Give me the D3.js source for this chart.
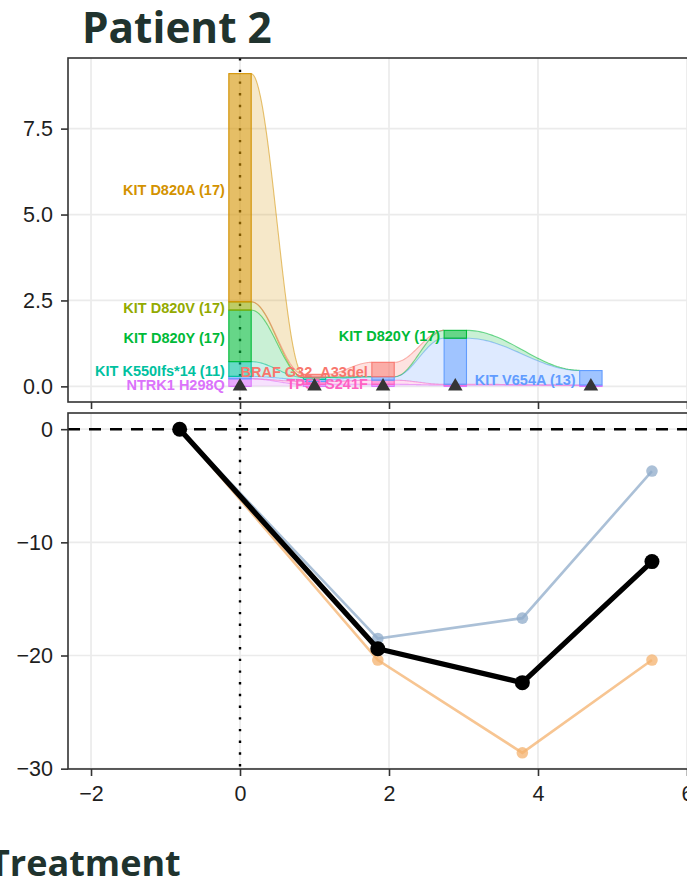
<!DOCTYPE html>
<html>
<head>
<meta charset="utf-8">
<script src="https://cdn.jsdelivr.net/npm/d3@7"></script>
<style>
  html, body { margin: 0; padding: 0; background: #fff; overflow: hidden; }
  svg { display: block; }
</style>
</head>
<body>
<svg id="chart" width="687" height="884"></svg>
<script>
// ---- clonal fractions at each sequencing time point (stack order: bottom -> top)
const sampleTimes = [0, 1.0, 1.92, 2.89, 4.71];
const mutations = ["NTRK1 H298Q", "TP53 S241F", "KIT V654A", "KIT K550Ifs*14",
                   "KIT D820Y", "KIT D820V", "BRAF G32_A33del", "KIT D820A"];
const mutationColors = ["#DB72FB", "#FF61C3", "#619CFF", "#00C19F",
                        "#00BA38", "#93AA00", "#F8766D", "#D39200"];
const ntrk1H298Q   = [0.22, 0.06, 0.06, 0.04, 0.03];
const tp53S241F    = [0.00, 0.08, 0.12, 0.02, 0.01];
const kitV654A     = [0.07, 0.06, 0.10, 1.34, 0.42];
const kitK550Ifs   = [0.43, 0.06, 0.00, 0.00, 0.00];
const kitD820Y     = [1.50, 0.01, 0.00, 0.23, 0.01];
const kitD820V     = [0.24, 0.00, 0.00, 0.00, 0.00];
const brafG32A33   = [0.00, 0.08, 0.42, 0.00, 0.00];
const kitD820A     = [6.64, 0.00, 0.00, 0.00, 0.00];
const mutationValues = [ntrk1H298Q, tp53S241F, kitV654A, kitK550Ifs,
                        kitD820Y, kitD820V, brafG32A33, kitD820A];

// ---- clone labels: text, clone index, time point it is attached to
const labelTexts = ["KIT D820A (17)", "KIT D820V (17)", "KIT D820Y (17)", "KIT K550Ifs*14 (11)",
                    "NTRK1 H298Q", "BRAF G32_A33del", "TP53 S241F", "KIT D820Y (17)", "KIT V654A (13)"];
const labelMutation = [7, 5, 4, 3, 0, 6, 1, 4, 2];
const labelTimes = [0, 0, 0, 0, 0, 1.92, 1.92, 2.89, 4.71];

// ---- tumour size change (%) over time
const tumorTimes  = [-0.81, 1.85, 3.79, 5.53];
const tumorMean   = [0, -19.4, -22.4, -11.7];
const lesionA     = [0, -18.5, -16.7, -3.7];
const lesionB     = [0, -20.4, -28.6, -20.4];

// ---- tick values
const xTicks = [-2, 0, 2, 4, 6];
const topTicks = [0, 2.5, 5, 7.5];
const bottomTicks = [0, -10, -20, -30];

const barWidth = 0.3;

const svg = d3.select("#chart");
const axisFont = "'Liberation Sans', Arial, sans-serif";
const headFont = "'Open Sans', sans-serif";
const gridColor = "#ebebeb";
const frameColor = "#333333";

const left = 68, right = 710;
const topPanel = { y0: 58, y1: 402 };
const botPanel = { y0: 413, y1: 769 };

const x = d3.scaleLinear().domain([-2.309, 6.309]).range([left, right]);
const yTop = d3.scaleLinear().domain([-0.455, 9.555]).range([topPanel.y1, topPanel.y0]);
const yBot = d3.scaleLinear().domain([-30.03, 1.43]).range([botPanel.y1, botPanel.y0]);

// headings
svg.append("text")
  .attr("x", 82).attr("y", 43)
  .attr("font-family", headFont).attr("font-weight", 700).attr("font-size", 42.3)
  .attr("fill", "#20332e")
  .text("Patient 2");

svg.append("text")
  .attr("x", -11).attr("y", 876)
  .attr("font-family", headFont).attr("font-weight", 700).attr("font-size", 36)
  .attr("fill", "#20332e")
  .text("Treatment");

// clip paths for panels
const defs = svg.append("defs");
defs.append("clipPath").attr("id", "clipTop").append("rect")
  .attr("x", left).attr("y", topPanel.y0).attr("width", right - left).attr("height", topPanel.y1 - topPanel.y0);
defs.append("clipPath").attr("id", "clipBot").append("rect")
  .attr("x", left).attr("y", botPanel.y0).attr("width", right - left).attr("height", botPanel.y1 - botPanel.y0);

function drawGrid(g, yScale, yTicks, p) {
  g.selectAll("line.gy").data(yTicks).join("line")
    .attr("x1", left).attr("x2", right)
    .attr("y1", d => yScale(d)).attr("y2", d => yScale(d))
    .attr("stroke", gridColor).attr("stroke-width", 1.7);
  g.selectAll("line.gx").data(xTicks).join("line")
    .attr("x1", d => x(d)).attr("x2", d => x(d))
    .attr("y1", p.y0).attr("y2", p.y1)
    .attr("stroke", gridColor).attr("stroke-width", 1.7);
}

function styleAxis(g) {
  g.select(".domain").remove();
  g.selectAll(".tick line").attr("stroke", frameColor).attr("stroke-width", 1.6);
  g.selectAll(".tick text").attr("fill", "#1e1e1e")
    .attr("font-family", axisFont).attr("font-size", 21.5);
}

// =================== top panel: clone fractions ===================
const gTop = svg.append("g");
const gTopPlot = gTop.append("g").attr("clip-path", "url(#clipTop)");
drawGrid(gTopPlot.append("g"), yTop, topTicks, topPanel);

// dotted marker at treatment start
gTopPlot.append("line")
  .attr("x1", x(0)).attr("x2", x(0)).attr("y1", topPanel.y0).attr("y2", topPanel.y1)
  .attr("stroke", "#000").attr("stroke-width", 2.4).attr("stroke-dasharray", "2.4,9.3");

// cumulative stack boundaries per time point
const lower = mutationValues.map(() => []);
const upper = mutationValues.map(() => []);
sampleTimes.forEach((t, k) => {
  let acc = 0;
  mutationValues.forEach((vals, i) => {
    lower[i][k] = acc;
    acc += vals[k];
    upper[i][k] = acc;
  });
});

// smooth transitions between neighbouring samples (edge of one bar to the next)
const ease = f => (1 - Math.cos(Math.PI * f)) / 2;
const ribbonArea = d3.area().x(d => x(d.t)).y0(d => yTop(d.lo)).y1(d => yTop(d.hi));
const ribbonTop = d3.line().x(d => x(d.t)).y(d => yTop(d.hi));
const steps = 40;

mutationValues.forEach((vals, i) => {
  for (let k = 0; k < sampleTimes.length - 1; k++) {
    if (vals[k] === 0 && vals[k + 1] === 0) continue;
    const ta = sampleTimes[k] + barWidth / 2, tb = sampleTimes[k + 1] - barWidth / 2;
    const pts = d3.range(steps + 1).map(j => {
      const f = j / steps, s = ease(f);
      return {
        t: ta + (tb - ta) * f,
        lo: lower[i][k] + (lower[i][k + 1] - lower[i][k]) * s,
        hi: upper[i][k] + (upper[i][k + 1] - upper[i][k]) * s
      };
    });
    gTopPlot.append("path").datum(pts).attr("d", ribbonArea)
      .attr("fill", mutationColors[i]).attr("fill-opacity", 0.21);
    gTopPlot.append("path").datum(pts).attr("d", ribbonTop)
      .attr("fill", "none").attr("stroke", mutationColors[i])
      .attr("stroke-opacity", 0.55).attr("stroke-width", 1.1);
  }
});

// stacked bars at each sample
mutationValues.forEach((vals, i) => {
  gTopPlot.selectAll(null)
    .data(sampleTimes.map((t, k) => ({ t, lo: lower[i][k], hi: upper[i][k] })).filter(d => d.hi - d.lo > 0.015))
    .join("rect")
    .attr("x", d => x(d.t - barWidth / 2))
    .attr("width", d => x(d.t + barWidth / 2) - x(d.t - barWidth / 2))
    .attr("y", d => yTop(d.hi))
    .attr("height", d => yTop(d.lo) - yTop(d.hi))
    .attr("fill", mutationColors[i]).attr("fill-opacity", 0.6)
    .attr("stroke", mutationColors[i]).attr("stroke-width", 1.1);
});

// clone labels, right-aligned just left of the bar they describe
labelTexts.forEach((txt, j) => {
  const i = labelMutation[j];
  const k = sampleTimes.indexOf(labelTimes[j]);
  const mid = (lower[i][k] + upper[i][k]) / 2;
  gTopPlot.append("text")
    .attr("x", x(labelTimes[j] - barWidth / 2) - 4)
    .attr("y", yTop(mid) + 2)
    .attr("text-anchor", "end").attr("dominant-baseline", "central")
    .attr("font-family", axisFont).attr("font-weight", 700).attr("font-size", 14.5)
    .attr("fill", mutationColors[i])
    .text(txt);
});

// sample markers
gTopPlot.selectAll("path.sample").data(sampleTimes).join("path")
  .attr("transform", d => `translate(${x(d)},${yTop(0)})`)
  .attr("d", d3.symbol(d3.symbolTriangle, 92))
  .attr("fill", "#353535");

gTop.append("rect")
  .attr("x", left).attr("y", topPanel.y0).attr("width", right - left).attr("height", topPanel.y1 - topPanel.y0)
  .attr("fill", "none").attr("stroke", frameColor).attr("stroke-width", 1.6);

gTop.append("g").attr("transform", `translate(${left},0)`)
  .call(d3.axisLeft(yTop).tickValues(topTicks).tickFormat(d3.format(".1f")).tickSize(7).tickPadding(8))
  .call(styleAxis);
gTop.append("g").attr("transform", `translate(0,${topPanel.y1})`)
  .call(d3.axisBottom(x).tickValues(xTicks).tickFormat("").tickSize(7))
  .call(styleAxis);

// =================== bottom panel: tumour response ===================
const gBot = svg.append("g");
const gBotPlot = gBot.append("g").attr("clip-path", "url(#clipBot)");
drawGrid(gBotPlot.append("g"), yBot, bottomTicks, botPanel);

gBotPlot.append("line")
  .attr("x1", left).attr("x2", right).attr("y1", yBot(0)).attr("y2", yBot(0))
  .attr("stroke", "#000").attr("stroke-width", 2.4).attr("stroke-dasharray", "12,9");
gBotPlot.append("line")
  .attr("x1", x(0)).attr("x2", x(0)).attr("y1", botPanel.y0).attr("y2", botPanel.y1)
  .attr("stroke", "#000").attr("stroke-width", 2.4).attr("stroke-dasharray", "2.4,9.3");

const tumorLine = vals => d3.line().x((d, k) => x(tumorTimes[k])).y(d => yBot(d))(vals);

[[lesionB, "#f4b26d"], [lesionA, "#8fabc9"]].forEach(([vals, col]) => {
  gBotPlot.append("path").attr("d", tumorLine(vals))
    .attr("fill", "none").attr("stroke", col).attr("stroke-opacity", 0.75).attr("stroke-width", 2.6);
  gBotPlot.selectAll(null).data(vals).join("circle")
    .attr("cx", (d, k) => x(tumorTimes[k])).attr("cy", d => yBot(d)).attr("r", 5.8)
    .attr("fill", col).attr("fill-opacity", 0.75);
});

gBotPlot.append("path").attr("d", tumorLine(tumorMean))
  .attr("fill", "none").attr("stroke", "#000").attr("stroke-width", 5.2).attr("stroke-linejoin", "round");
gBotPlot.selectAll(null).data(tumorMean).join("circle")
  .attr("cx", (d, k) => x(tumorTimes[k])).attr("cy", d => yBot(d)).attr("r", 7.5)
  .attr("fill", "#000");

gBot.append("rect")
  .attr("x", left).attr("y", botPanel.y0).attr("width", right - left).attr("height", botPanel.y1 - botPanel.y0)
  .attr("fill", "none").attr("stroke", frameColor).attr("stroke-width", 1.6);

gBot.append("g").attr("transform", `translate(${left},0)`)
  .call(d3.axisLeft(yBot).tickValues(bottomTicks).tickFormat(d3.format("d")).tickSize(7).tickPadding(8))
  .call(styleAxis);
gBot.append("g").attr("transform", `translate(0,${botPanel.y1})`)
  .call(d3.axisBottom(x).tickValues(xTicks).tickFormat(d3.format("d")).tickSize(7).tickPadding(10))
  .call(styleAxis);
</script>
</body>
</html>
